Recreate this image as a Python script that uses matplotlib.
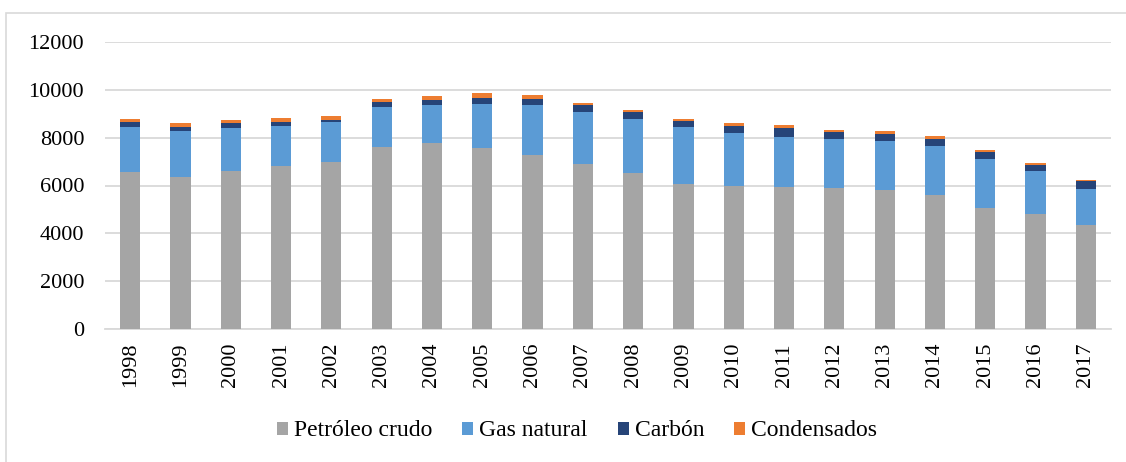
import numpy as np
import matplotlib.pyplot as plt
from matplotlib.patches import Rectangle

# === Datos ===
anios = [str(a) for a in range(1998, 2018)]
petroleo = [6560, 6370, 6620, 6830, 6990, 7620, 7760, 7560, 7290, 6910,
            6530, 6060, 5990, 5930, 5910, 5810, 5600, 5060, 4820, 4350]
gas = [1880, 1890, 1780, 1670, 1650, 1670, 1590, 1860, 2085, 2145,
       2257, 2396, 2215, 2104, 2034, 2034, 2062, 2033, 1783, 1519]
carbon = [195, 195, 209, 154, 111, 181, 237, 250, 251, 293,
          292, 250, 292, 376, 293, 292, 292, 293, 237, 306]
condensados = [139, 140, 139, 153, 153, 126, 167, 182, 167, 111,
               98, 84, 112, 125, 97, 153, 125, 97, 97, 70]

series = [("Petróleo crudo", petroleo, "#A5A5A5"),
          ("Gas natural", gas, "#5B9BD5"),
          ("Carbón", carbon, "#264478"),
          ("Condensados", condensados, "#ED7D31")]

plt.rcParams['font.family'] = ['Liberation Serif', 'DejaVu Serif']

fig = plt.figure(figsize=(11.26, 4.62), dpi=100)
ax = fig.add_axes([105 / 1126, 1 - 329 / 462, (1111 - 105) / 1126, (329 - 42) / 462])

# marco exterior
fig.patches.append(Rectangle((6 / 1126, -0.01), 1.02, 1 - 13 / 462 + 0.01,
                             transform=fig.transFigure, fill=False,
                             edgecolor="#d9d9d9", linewidth=1.2))

x = np.arange(len(anios))
base = np.zeros(len(anios))
for nombre, valores, color in series:
    ax.bar(x, valores, width=0.4, bottom=base, color=color, label=nombre, zorder=3)
    base += np.array(valores)

ax.set_ylim(0, 12000)
ax.set_xlim(-0.5, len(anios) - 0.5)
ax.set_yticks(range(0, 12001, 2000))
ax.set_xticks(x)
ax.set_xticklabels(anios, rotation=90)
ax.tick_params(axis='both', length=0, labelsize=16, colors='black')
ax.tick_params(axis='y', pad=15)
ax.tick_params(axis='x', pad=10)
ax.grid(axis='y', color='#d9d9d9', linewidth=1.3, zorder=0)
for s in ['top', 'right', 'left']:
    ax.spines[s].set_visible(False)
ax.spines['bottom'].set_color('#d9d9d9')
ax.spines['bottom'].set_linewidth(1.3)

fig.legend(loc='center', bbox_to_anchor=(577 / 1126, 1 - 431 / 462), ncol=4,
           frameon=False, fontsize=17, handlelength=0.47, handleheight=0.47,
           handletextpad=0.25, columnspacing=1.27, borderpad=0, borderaxespad=0)

fig.savefig("out.png", dpi=100)
